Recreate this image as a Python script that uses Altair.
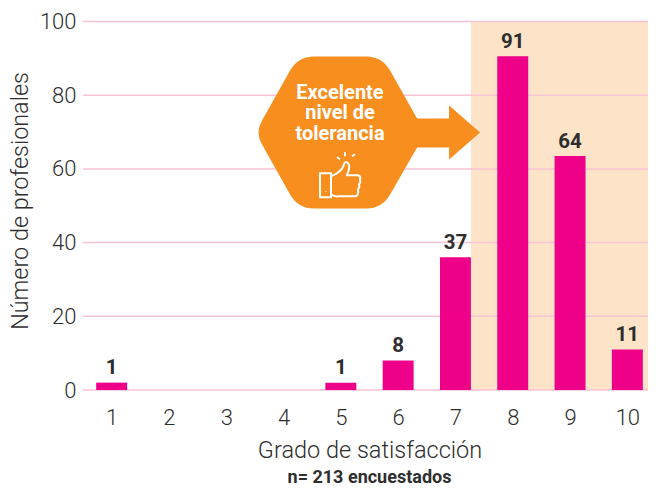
import altair as alt
import pandas as pd

grades = [1, 2, 3, 4, 5, 6, 7, 8, 9, 10]
bar_values = [2, 0, 0, 0, 2, 8, 36, 90.6, 63.5, 11]
bar_labels = ["1", "", "", "", "1", "8", "37", "91", "64", "11"]
y_ticks = [0, 20, 40, 60, 80, 100]
callout_lines = ["Excelente", "nivel de", "tolerancia"]
callout_line_y = [80.6, 75.1, 69.6]

PINK = "#EE0088"
ORANGE = "#F78E1E"
SHADE = "#FDE3C8"
GRID = "#F8C3D3"
INK = "#2E2E2E"
FONT = "Roboto"

HALF = 0.27
XS = alt.Scale(domain=[0.5, 10.5], nice=False, zero=False)
YS = alt.Scale(domain=[0, 100], nice=False)

bars = pd.DataFrame({"g": grades, "v": bar_values, "t": bar_labels})
bars["a"] = bars.g - HALF
bars["b"] = bars.g + HALF

x_axis = alt.Axis(values=grades, title="Grado de satisfacción", grid=False, domain=False, ticks=False,
                  labelFont=FONT, labelFontSize=22, labelFontWeight=300, labelColor=INK, labelPadding=17,
                  labelFlush=False, format="d",
                  titleFont=FONT, titleFontSize=23.5, titleFontWeight=300, titleColor=INK, titlePadding=10)
y_axis = alt.Axis(values=y_ticks, title="Número de profesionales", grid=False, domain=False, ticks=False,
                  labelFont=FONT, labelFontSize=22, labelFontWeight=300, labelColor=INK, labelPadding=7,
                  titleFont=FONT, titleFontSize=23.4, titleFontWeight=300, titleColor=INK, titlePadding=7,
                  titleY=179)

shade = alt.Chart(pd.DataFrame({"a": [7.27], "b": [10.5], "y": [0], "y2": [100]})).mark_rect(color=SHADE).encode(
    x=alt.X("a:Q", scale=XS, axis=x_axis), x2="b:Q",
    y=alt.Y("y:Q", scale=YS, axis=y_axis), y2="y2:Q")

grid = alt.Chart(pd.DataFrame({"y": y_ticks})).mark_rule(color=GRID, strokeWidth=1.5).encode(
    y=alt.Y("y:Q", scale=YS))

bar = alt.Chart(bars[bars.v > 0]).mark_rect(color=PINK).encode(
    x=alt.X("a:Q", scale=XS), x2="b:Q",
    y=alt.Y("v:Q", scale=YS), y2=alt.datum(0))

labels = alt.Chart(bars[bars.v > 0]).mark_text(
    font=FONT, fontSize=20.5, fontWeight=700, color=INK, baseline="bottom", dy=-4.5).encode(
    x=alt.X("g:Q", scale=XS), y=alt.Y("v:Q", scale=YS), text="t:N")

# shape paths are in pixels relative to the anchor (size=4 gives 1 unit = 1 px)
HEX = ("M-108,-12 L-80,-62 Q-72,-76 -56,-76 L-4,-76 Q12,-76 20,-62 L47,-14 L79,-14 L79,-27 L110,0 "
       "L79,27 L79,15 L47,15 L20,62 Q12,76 -4,76 L-56,76 Q-72,76 -80,62 L-108,12 Q-115,0 -108,-12 Z")
THUMB = ("M-20,-3 H-9 V21 H-20 Z M-9,0 L-3,-3 Q3,-7 4,-12 Q5,-15 7,-14 Q10,-12 9,-7 L7,-1 H18 "
         "Q21,0 20,3 Q21,6 19,8 Q20,11 18,13 Q19,18 16,20 H-2 Q-5,21 -9,18 "
         "M-3,-19 L0,-17 M5,-24 V-20 M12,-20 L15,-22 M-14,15 V15.5")

hexa = alt.Chart(pd.DataFrame({"x": [5.51], "y": [69.9]})).mark_point(
    shape=HEX, filled=True, color=ORANGE, opacity=1, size=4).encode(
    x=alt.X("x:Q", scale=XS), y=alt.Y("y:Q", scale=YS))

thumb = alt.Chart(pd.DataFrame({"x": [4.985], "y": [58]})).mark_point(
    shape=THUMB, filled=False, stroke="white", strokeWidth=2, opacity=1, size=4).encode(
    x=alt.X("x:Q", scale=XS), y=alt.Y("y:Q", scale=YS))

callout = alt.Chart(pd.DataFrame({"t": callout_lines, "x": [4.985] * 3, "y": callout_line_y})).mark_text(
    font=FONT, fontSize=20, fontWeight=700, color="white").encode(
    x=alt.X("x:Q", scale=XS), y=alt.Y("y:Q", scale=YS), text="t:N")

chart = alt.layer(shade, grid, bar, labels, hexa, callout, thumb).properties(
    width=573, height=368.5,
    autosize=alt.AutoSizeParams(type="none"),
    padding={"left": 75, "top": 13.5, "right": -8, "bottom": 100},
    title=alt.TitleParams("n= 213 encuestados", orient="bottom", anchor="middle", font=FONT,
                          fontSize=18, fontWeight=700, color=INK, offset=7),
).configure_view(stroke=None)

chart.save("out.html", embed_options={"renderer": "svg", "actions": False})
